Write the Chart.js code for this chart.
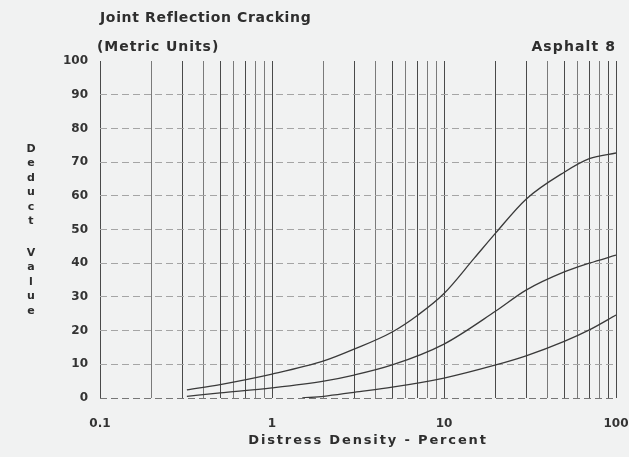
<!DOCTYPE html>
<html>
<head>
<meta charset="utf-8">
<script src="https://cdn.jsdelivr.net/npm/chart.js@4/dist/chart.umd.min.js"></script>
<style>
  html, body { margin: 0; padding: 0; background: #f1f2f2; }
  #wrap { position: relative; width: 629px; height: 457px; }
</style>
</head>
<body>
<div id="wrap"><canvas id="c" width="629" height="457"></canvas></div>
<script>
// ---- data ----
const highX   = [0.32, 0.5, 1, 2, 3, 5, 7, 10, 15, 20, 30, 50, 70, 100];
const highY   = [2.4, 4.0, 7.1, 11.0, 14.5, 19.6, 24.5, 31, 41.5, 49, 59, 67, 71, 72.7];
const mediumX = [0.32, 0.5, 1, 2, 3, 5, 10, 20, 30, 50, 70, 100];
const mediumY = [0.5, 1.5, 3, 5, 6.8, 9.8, 16, 25.8, 32, 37.4, 40, 42.4];
const lowX    = [1.5, 2, 3, 5, 10, 20, 30, 50, 70, 100];
const lowY    = [0, 0.5, 1.7, 3.2, 5.9, 9.8, 12.5, 16.8, 20.2, 24.6];

const xGridValues = [0.1,0.2,0.3,0.4,0.5,0.6,0.7,0.8,0.9,
                     1,2,3,4,5,6,7,8,9,
                     10,20,30,40,50,60,70,80,90,100];
const xTickLabels = [0.1, 1, 10, 100];
const yTickValues = [0,10,20,30,40,50,60,70,80,90,100];

const titleText = "Joint Reflection Cracking";
const subtitleText = "(Metric Units)";
const cornerText = "Asphalt 8";
const xTitleText = "Distress Density - Percent";
const yTitleText = "Deduct Value";

const toPts = (xs, ys) => xs.map((x, i) => ({x: x, y: ys[i]}));

const lineStyle = {
  borderColor: '#3a3a3a', borderWidth: 1.3, pointRadius: 0,
  fill: false, cubicInterpolationMode: 'monotone', tension: 0.4
};

const textPlugin = {
  id: 'texts',
  afterDraw(chart) {
    const ctx = chart.ctx;
    const ca = chart.chartArea;
    ctx.save();
    ctx.fillStyle = '#2e2e2e';
    ctx.textBaseline = 'middle';
    ctx.font = 'bold 14px "DejaVu Sans"';
    ctx.letterSpacing = '0.65px';
    ctx.textAlign = 'left';
    ctx.fillText(titleText, ca.left, 18);
    ctx.letterSpacing = '0.95px';
    ctx.fillText(subtitleText, ca.left - 3, 47);
    ctx.textAlign = 'right';
    ctx.letterSpacing = '1.1px';
    ctx.fillText(cornerText, ca.right, 47);
    // x title
    ctx.font = 'bold 13px "DejaVu Sans"';
    ctx.letterSpacing = '1.85px';
    ctx.textAlign = 'center';
    ctx.fillText(xTitleText, 368, 441);
    // y title, stacked letters
    ctx.font = 'bold 11px "DejaVu Sans"';
    ctx.letterSpacing = '0px';
    let y = 149;
    for (const ch of yTitleText) {
      if (ch === ' ') { y += 17; continue; }
      ctx.fillText(ch, 31, y);
      y += 14.5;
    }
    ctx.restore();
  }
};

const bgPlugin = {
  id: 'bg',
  beforeDraw(chart) {
    const ctx = chart.ctx;
    ctx.save();
    ctx.fillStyle = '#f1f2f2';
    ctx.fillRect(0, 0, chart.width, chart.height);
    ctx.restore();
  }
};

new Chart(document.getElementById('c'), {
  type: 'line',
  data: {
    datasets: [
      Object.assign({label: 'High', data: toPts(highX, highY)}, lineStyle),
      Object.assign({label: 'Medium', data: toPts(mediumX, mediumY)}, lineStyle),
      Object.assign({label: 'Low', data: toPts(lowX, lowY)}, lineStyle)
    ]
  },
  options: {
    responsive: false,
    animation: false,
    layout: { padding: { left: 0, right: 13, top: 61, bottom: 0 } },
    plugins: { legend: { display: false }, tooltip: { enabled: false }, title: { display: false } },
    scales: {
      x: {
        type: 'logarithmic',
        min: 0.1, max: 100,
        afterBuildTicks(scale) { scale.ticks = xGridValues.map(v => ({value: v})); },
        afterFit(scale) { scale.height = 59; scale.paddingLeft = 0; scale.paddingRight = 0; },
        border: { display: false },
        grid: {
          color: (c) => (c.tick && [0.2,0.4,0.6,0.8,0.9,2,4,6,8,9,40,60,80].includes(c.tick.value)) ? '#7a7a7a' : '#4a4a4a',
          lineWidth: 1, drawTicks: false
        },
        ticks: {
          autoSkip: false, maxRotation: 0, padding: 19,
          color: '#333', font: { family: 'DejaVu Sans', size: 12, weight: 'bold' },
          callback: (v) => xTickLabels.includes(v) ? String(v) : ''
        }
      },
      y: {
        min: 0, max: 100,
        afterBuildTicks(scale) { scale.ticks = yTickValues.map(v => ({value: v})); },
        afterFit(scale) { scale.width = 100; scale.paddingTop = 0; scale.paddingBottom = 0; },
        border: { display: false, dash: [7, 4] },
        grid: {
          color: (c) => c.tick && c.tick.value === 100 ? 'rgba(0,0,0,0)' : (c.tick && c.tick.value === 0 ? '#777' : '#a5a5a5'),
          lineWidth: 1, drawTicks: false
        },
        ticks: {
          padding: 12, color: '#333',
          font: { family: 'DejaVu Sans', size: 12, weight: 'bold' }
        }
      }
    }
  },
  plugins: [bgPlugin, textPlugin]
});
</script>
</body>
</html>
